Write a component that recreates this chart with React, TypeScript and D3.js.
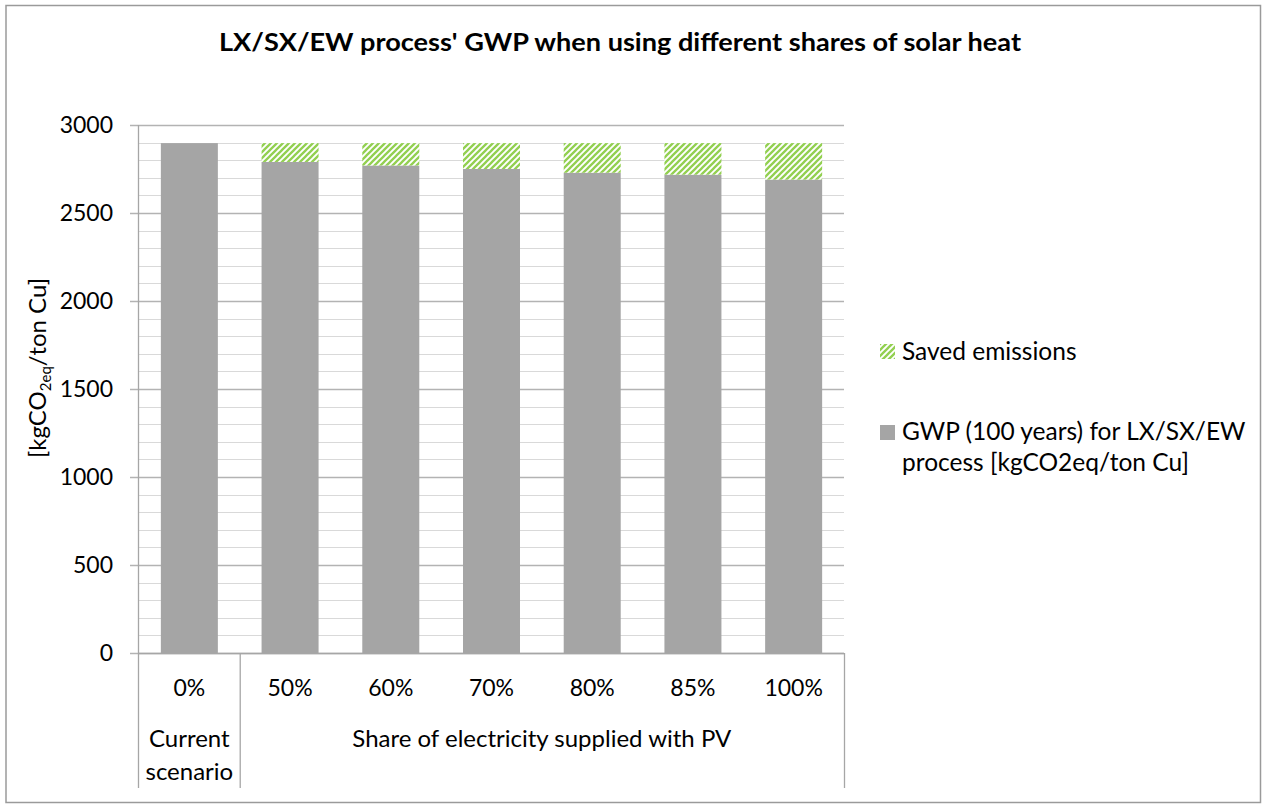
import React from "react";
import * as d3 from "d3";

const categories = ["0%", "50%", "60%", "70%", "80%", "85%", "100%"];
const groupLabels = [["Current", "scenario"], ["Share of electricity supplied with PV"]];
const groupSpans = [[0, 0], [1, 6]];
const gwp = [2897, 2790, 2770, 2750, 2729, 2718, 2690];
const saved = [0, 107, 127, 147, 168, 179, 207];
const yTicks = [0, 500, 1000, 1500, 2000, 2500, 3000];
const seriesNames = ["Saved emissions", "GWP (100 years) for LX/SX/EW", "process [kgCO2eq/ton Cu]"];

const W = 1262;
const H = 808;
const FONT = "Lato, 'Open Sans', sans-serif";

export default function App() {
  const left = 139;
  const right = 844;
  const top = 125;
  const bottom = 653;
  const p = 0.434;
  const x = d3.scaleBand<string>().domain(categories).range([left, right]).paddingInner(p).paddingOuter(p / 2);
  const y = d3.scaleLinear().domain([0, 3000]).range([bottom, top]);
  const minor = d3.range(0, 3001, 100).filter((v) => v % 500 !== 0);
  const step = x.step();
  const boundary = (i: number) => left + i * step;
  const catAxisBottom = 788;

  return (
    <svg width={W} height={H} style={{ position: "absolute", left: 0, top: 0, background: "#fff" }} fontFamily={FONT}>
      <defs>
        <pattern id="stripes" patternUnits="userSpaceOnUse" width={6} height={6}>
          <rect width={6} height={6} fill="#fff" />
          <path d="M-1.5,1.5 L1.5,-1.5 M0,6 L6,0 M4.5,7.5 L7.5,4.5" stroke="#92d050" strokeWidth={2.3} />
        </pattern>
      </defs>
      <rect x={6} y={5.5} width={1254.5} height={797} fill="#fff" stroke="#9a9a9a" strokeWidth={1.5} />
      <text x={620} y={51} textAnchor="middle" fontSize={24} fontWeight="bold" fill="#000" textLength={802} lengthAdjust="spacingAndGlyphs">
        LX/SX/EW process' GWP when using different shares of solar heat
      </text>

      {minor.map((v) => (
        <line key={"m" + v} x1={left} x2={right} y1={Math.round(y(v)) + 0.5} y2={Math.round(y(v)) + 0.5} stroke="#d9d9d9" strokeWidth={1} />
      ))}
      {yTicks.map((v) => (
        <g key={"t" + v}>
          <line x1={130} x2={right} y1={Math.round(y(v)) + 0.5} y2={Math.round(y(v)) + 0.5} stroke="#b3b3b3" strokeWidth={1.3} />
          <text x={113} y={y(v) + 8} textAnchor="end" fontSize={23} fill="#000">
            {v}
          </text>
        </g>
      ))}

      {categories.map((c, i) => (
        <g key={c}>
          <rect x={x(c)} y={y(gwp[i])} width={x.bandwidth()} height={y(0) - y(gwp[i])} fill="#a5a5a5" />
          {saved[i] > 0 && (
            <rect x={x(c)} y={y(gwp[i] + saved[i])} width={x.bandwidth()} height={y(gwp[i]) - y(gwp[i] + saved[i])} fill="url(#stripes)" />
          )}
          <text x={(x(c) as number) + x.bandwidth() / 2} y={696} textAnchor="middle" fontSize={23} fill="#000">
            {c}
          </text>
        </g>
      ))}

      <line x1={left - 0.5} x2={left - 0.5} y1={top} y2={catAxisBottom} stroke="#a6a6a6" strokeWidth={1.3} />
      <line x1={left} x2={right} y1={bottom + 0.5} y2={bottom + 0.5} stroke="#a6a6a6" strokeWidth={1.3} />
      {groupSpans.map(([a, b], gi) => {
        const x0 = boundary(a);
        const x1 = boundary(b + 1);
        return (
          <g key={"g" + gi}>
            <line x1={x1 + 0.5} x2={x1 + 0.5} y1={bottom} y2={catAxisBottom} stroke="#a6a6a6" strokeWidth={1.3} />
            {groupLabels[gi].map((t, li) => (
              <text key={li} x={(x0 + x1) / 2} y={747 + li * 33} textAnchor="middle" fontSize={24} fill="#000">
                {t}
              </text>
            ))}
          </g>
        );
      })}

      <text transform={`translate(46,368) rotate(-90)`} textAnchor="middle" fontSize={24} fill="#000">
        [kgCO<tspan fontSize={15} dy={5}>2eq</tspan>
        <tspan dy={-5}>/ton Cu]</tspan>
      </text>

      <rect x={880} y={344} width={15} height={15} fill="url(#stripes)" />
      <text x={902} y={360} fontSize={24.5} fill="#000">{seriesNames[0]}</text>
      <rect x={880} y={425} width={15} height={15} fill="#a5a5a5" />
      <text x={902} y={440} fontSize={24.5} fill="#000">{seriesNames[1]}</text>
      <text x={902} y={471} fontSize={24.5} fill="#000">{seriesNames[2]}</text>
    </svg>
  );
}
